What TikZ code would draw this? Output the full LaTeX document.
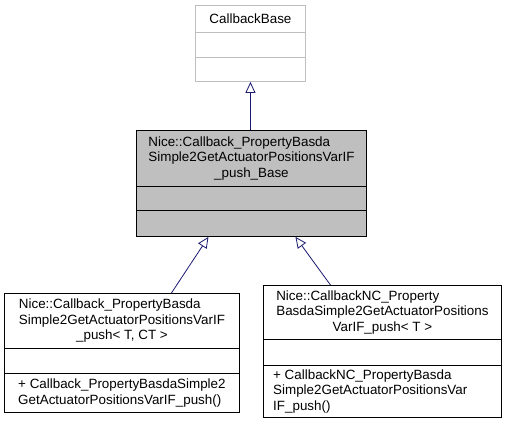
\documentclass[tikz,border=0pt]{standalone}
\usepackage{fontspec}
\setmainfont{Liberation Sans}
\usetikzlibrary{arrows.meta}
\definecolor{navy}{HTML}{191970}
\begin{document}
\begin{tikzpicture}[x=1pt,y=-1pt,
  comp/.style={draw=black, line width=0.9pt, anchor=north west, inner sep=0pt, rectangle},
  gcomp/.style={draw=black!25, line width=0.9pt, anchor=north west, inner sep=0pt, rectangle},
  txt/.style={font=\fontsize{13.4}{15.5}\selectfont, inner sep=0pt},
  inh/.style={draw=navy, line width=0.8pt, -{Triangle[open, length=11pt, width=10pt, fill=white]}}
]
\useasboundingbox (0,0) rectangle (506,427);
% CallbackBase
\node[gcomp, minimum width=110pt, minimum height=27pt] (bt) at (195,5) {};
\node[gcomp, minimum width=110pt, minimum height=25pt] (bm) at (195,32) {};
\node[gcomp, minimum width=110pt, minimum height=24pt] (bb) at (195,57) {};
\node[txt] (btx) at (bt.center) {CallbackBase};
% middle
\node[comp, fill=black!25, minimum width=230pt, minimum height=56pt] (mt) at (136,130) {};
\node[comp, fill=black!25, minimum width=230pt, minimum height=24pt] (mm) at (136,186) {};
\node[comp, fill=black!25, minimum width=230pt, minimum height=26pt] (mb) at (136,210) {};
\node[txt] (mtx) at (mt.center) {\begin{tabular}{@{}l@{}}Nice::Callback\_PropertyBasda\\Simple2GetActuatorPositionsVarIF\\\multicolumn{1}{@{}c@{}}{\_push\_Base}\end{tabular}};
% left
\node[comp, minimum width=235pt, minimum height=55pt] (lt) at (4,293) {};
\node[comp, minimum width=235pt, minimum height=25pt] (lm) at (4,348) {};
\node[comp, minimum width=235pt, minimum height=39pt] (lb) at (4,373) {};
\node[txt] (ltx) at (lt.center) {\begin{tabular}{@{}l@{}}Nice::Callback\_PropertyBasda\\Simple2GetActuatorPositionsVarIF\\\multicolumn{1}{@{}c@{}}{\_push< T, CT >}\end{tabular}};
\node[txt, align=left] (lbx) at (lb.center) {+ Callback\_PropertyBasdaSimple2\\GetActuatorPositionsVarIF\_push()};
% right
\node[comp, minimum width=238pt, minimum height=54pt] (rt) at (263,285) {};
\node[comp, minimum width=238pt, minimum height=26pt] (rm) at (263,339) {};
\node[comp, minimum width=238pt, minimum height=52pt] (rb) at (263,365) {};
\node[txt] (rtx) at (rt.center) {\begin{tabular}{@{}l@{}}Nice::CallbackNC\_Property\\BasdaSimple2GetActuatorPositions\\\multicolumn{1}{@{}c@{}}{VarIF\_push< T >}\end{tabular}};
\node[txt, align=left, anchor=west] (rbx) at ([xshift=10pt]rb.west) {+ CallbackNC\_PropertyBasda\\Simple2GetActuatorPositionsVar\\IF\_push()};
% inheritance
\draw[inh] ([xshift=-1pt]mt.north) -- (bb.south);
\draw[inh] ([xshift=49.5pt]lt.north) -- ([xshift=-43pt]mb.south);
\draw[inh] ([xshift=-52pt]rt.north) -- ([xshift=44pt]mb.south);
\end{tikzpicture}
\end{document}
